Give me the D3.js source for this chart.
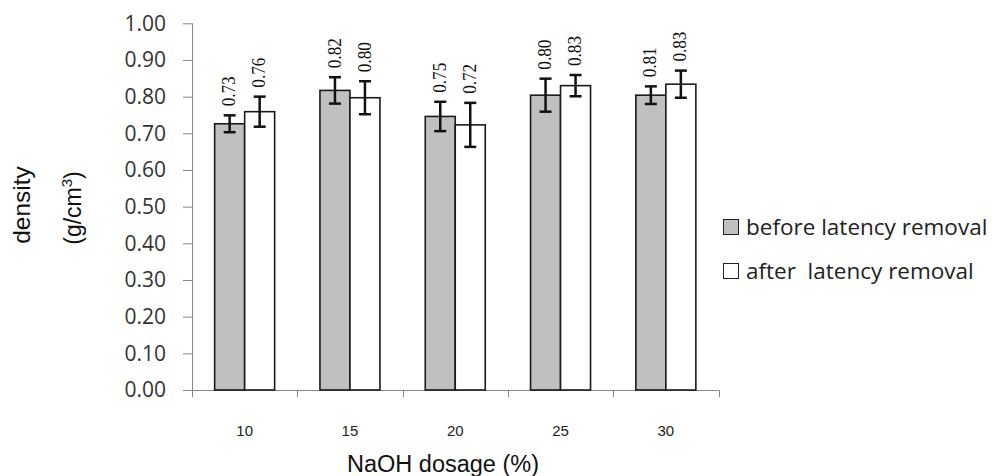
<!DOCTYPE html>
<html>
<head>
<meta charset="utf-8">
<script src="https://cdn.jsdelivr.net/npm/d3@7"></script>
<style>
  html, body { margin: 0; padding: 0; background: #fff; }
  svg { display: block; }
  text { white-space: pre; }
</style>
</head>
<body>
<svg id="chart" width="992" height="476"></svg>
<script>
const categories = ["10", "15", "20", "25", "30"];
const seriesNames = ["before latency removal", "after  latency removal"];
const beforeValues = [0.726, 0.817, 0.746, 0.804, 0.804];
const afterValues  = [0.759, 0.797, 0.723, 0.830, 0.834];
const beforeErrors = [0.023, 0.036, 0.040, 0.045, 0.024];
const afterErrors  = [0.041, 0.045, 0.060, 0.029, 0.037];
const beforeLabels = ["0.73", "0.82", "0.75", "0.80", "0.81"];
const afterLabels  = ["0.76", "0.80", "0.72", "0.83", "0.83"];
const yTicks = [0, 0.1, 0.2, 0.3, 0.4, 0.5, 0.6, 0.7, 0.8, 0.9, 1.0];

const seriesColors = ["#c0c0c0", "#ffffff"];

const svg = d3.select("#chart");
const plotLeft = 192, plotRight = 718.5, plotTop = 23.3, plotBottom = 390;

const x0 = d3.scaleBand().domain(categories).range([plotLeft, plotRight]).padding(0);
const x1 = d3.scaleBand().domain([0, 1]).range([0, x0.bandwidth()]).paddingInner(0).paddingOuter(0.755);
const y = d3.scaleLinear().domain([0, 1]).range([plotBottom, plotTop]);

const data = categories.map((c, i) => ({
  cat: c,
  items: [
    { s: 0, v: beforeValues[i], e: beforeErrors[i], lab: beforeLabels[i] },
    { s: 1, v: afterValues[i], e: afterErrors[i], lab: afterLabels[i] }
  ]
}));

// Y axis
const yAxis = d3.axisLeft(y).tickValues(yTicks).tickSize(9).tickPadding(17).tickFormat(d3.format(".2f"));
const gy = svg.append("g").attr("transform", `translate(${plotLeft},0)`).call(yAxis);
gy.selectAll("path, line").attr("stroke", "#878787").attr("stroke-width", 1);
gy.select(".domain").attr("d", `M0.5,${plotBottom}V${plotTop}`);
gy.selectAll("text").attr("font-family", "'Open Sans', sans-serif").attr("font-size", 21).attr("fill", "#333");

// X axis (ticks at band boundaries)
const gx = svg.append("g").attr("transform", `translate(0,${plotBottom})`);
gx.append("line").attr("x1", plotLeft - 9).attr("x2", plotRight).attr("y1", 0.5).attr("y2", 0.5)
  .attr("stroke", "#878787");
const boundaries = categories.map(c => x0(c)).concat([plotRight]);
gx.selectAll("line.tk").data(boundaries).enter().append("line").attr("class", "tk")
  .attr("x1", d => Math.round(d) + 0.5).attr("x2", d => Math.round(d) + 0.5)
  .attr("y1", 0).attr("y2", 7).attr("stroke", "#878787");
gx.selectAll("text").data(categories).enter().append("text")
  .attr("x", d => x0(d) + x0.bandwidth() / 2)
  .attr("y", 46)
  .attr("text-anchor", "middle")
  .attr("font-family", "'Liberation Sans', Arial, sans-serif")
  .attr("font-size", 15)
  .attr("fill", "#222")
  .text(d => d);

// Bars
const groups = svg.selectAll("g.grp").data(data).enter().append("g").attr("class", "grp")
  .attr("transform", d => `translate(${x0(d.cat)},0)`);

groups.selectAll("rect").data(d => d.items).enter().append("rect")
  .attr("x", d => x1(d.s))
  .attr("y", d => y(d.v))
  .attr("width", x1.bandwidth())
  .attr("height", d => y(0) - y(d.v))
  .attr("fill", d => seriesColors[d.s])
  .attr("stroke", "#1a1a1a")
  .attr("stroke-width", 1.6);

// Error bars
const eb = groups.selectAll("g.err").data(d => d.items).enter().append("g").attr("class", "err");
eb.append("line")
  .attr("x1", d => x1(d.s) + x1.bandwidth() / 2)
  .attr("x2", d => x1(d.s) + x1.bandwidth() / 2)
  .attr("y1", d => y(d.v + d.e)).attr("y2", d => y(d.v - d.e))
  .attr("stroke", "#111").attr("stroke-width", 2.5);
eb.selectAll("line.cap").data(d => [[d, d.v + d.e], [d, d.v - d.e]]).enter().append("line")
  .attr("class", "cap")
  .attr("x1", d => x1(d[0].s) + x1.bandwidth() / 2 - 6)
  .attr("x2", d => x1(d[0].s) + x1.bandwidth() / 2 + 6)
  .attr("y1", d => y(d[1])).attr("y2", d => y(d[1]))
  .attr("stroke", "#111").attr("stroke-width", 2.5);

// Value labels (rotated)
groups.selectAll("text.val").data(d => d.items).enter().append("text")
  .attr("class", "val")
  .attr("transform", d => `translate(${x1(d.s) + x1.bandwidth() / 2 - 1},${y(d.v + d.e) - 9}) rotate(-90) scale(0.88,1)`)
  .attr("dy", "0.34em")
  .attr("text-anchor", "start")
  .attr("font-family", "'Liberation Serif', 'Times New Roman', serif")
  .attr("font-size", 19.5)
  .attr("fill", "#111")
  .text(d => d.lab);

// Y axis titles
svg.append("text")
  .attr("transform", "translate(30,205) rotate(-90)")
  .attr("text-anchor", "middle")
  .attr("font-family", "'Liberation Sans', Arial, sans-serif")
  .attr("font-size", 24.5)
  .attr("fill", "#111")
  .text("density");
const t2 = svg.append("text")
  .attr("transform", "translate(80.5,208) rotate(-90)")
  .attr("text-anchor", "middle")
  .attr("font-family", "'Liberation Sans', Arial, sans-serif")
  .attr("font-size", 23)
  .attr("fill", "#111");
t2.append("tspan").text("(g/cm");
t2.append("tspan").attr("font-size", 15).attr("dy", -9).text("3");
t2.append("tspan").attr("dy", 9).text(")");

// X axis title
svg.append("text")
  .attr("x", 443).attr("y", 472)
  .attr("text-anchor", "middle")
  .attr("font-family", "'Liberation Sans', Arial, sans-serif")
  .attr("font-size", 23.5)
  .attr("fill", "#111")
  .text("NaOH dosage (%)");

// Legend
const legend = svg.append("g").attr("transform", "translate(723,219)");
const li = legend.selectAll("g").data(seriesNames).enter().append("g")
  .attr("transform", (d, i) => `translate(0,${i * 44})`);
li.append("rect").attr("x", 0.5).attr("y", 0.5).attr("width", 15).attr("height", 15)
  .attr("fill", (d, i) => seriesColors[i]).attr("stroke", "#222").attr("stroke-width", 1);
li.append("text").attr("x", 23).attr("y", 15.5)
  .attr("font-family", "'Open Sans', sans-serif")
  .attr("font-size", 22.5)
  .attr("fill", "#222")
  .text(d => d);
</script>
</body>
</html>
